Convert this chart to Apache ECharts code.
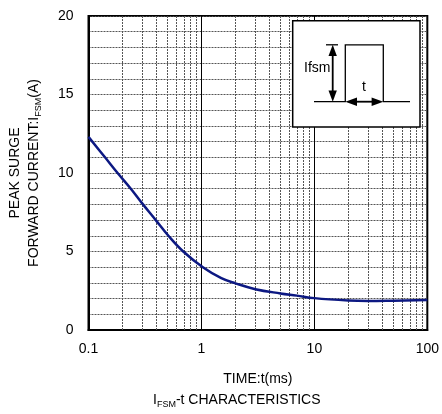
<!DOCTYPE html>
<html><head><meta charset="utf-8">
<script src="https://cdn.jsdelivr.net/npm/echarts@6/dist/echarts.min.js"></script>
<style>html,body{margin:0;padding:0;background:#fff}#c{width:442px;height:414px}</style>
</head><body><div id="c"></div>
<script>
const timeMs = [0.1, 0.14, 0.181, 0.237, 0.30, 0.394, 0.51, 0.69, 1.03, 1.5, 2, 3, 5, 7, 10, 20, 30, 50, 100];
const ifsmA = [12.3, 11, 10, 9, 8.05, 7, 6, 5, 4, 3.3, 2.97, 2.6, 2.33, 2.19, 2.03, 1.88, 1.85, 1.87, 1.91];
const minorGridX = [0.2,0.3,0.4,0.5,0.6,0.7,0.8,0.9,2,3,4,5,6,7,8,9,20,30,40,50,60,70,80,90];
const xTickLabels = ['0.1','1','10','100'];
const yTickLabels = ['0','5','10','15','20'];

const F = 'Liberation Sans, Arial, sans-serif';
const chart = echarts.init(document.getElementById('c'));
const dashed = {color:'#555', width:1, type:[2,1]};
chart.setOption({
  animation:false,
  backgroundColor:'#fff',
  textStyle:{fontFamily:F},
  grid:{left:88,right:13,top:16,bottom:84,show:true,borderColor:'#000',borderWidth:2,backgroundColor:'transparent'},
  xAxis:{type:'log',logBase:10,min:0.1,max:100,
    name:'TIME:t(ms)',nameLocation:'middle',nameGap:42,
    nameTextStyle:{fontSize:14,color:'#000',fontFamily:F},
    axisLine:{lineStyle:{color:'#000',width:2}},
    axisTick:{show:false},
    axisLabel:{fontSize:14,color:'#000',fontFamily:F,margin:12,
      formatter:v=>{const i=Math.round(Math.log10(v))+1;return xTickLabels[i]||'';}},
    splitLine:{show:true,lineStyle:{color:'#000',width:1}}
  },
  yAxis:{type:'value',min:0,max:20,interval:1,
    name:'{a|PEAK SURGE}\n{a|FORWARD CURRENT:I}{s|FSM}{a|(A)}',
    nameLocation:'middle',nameGap:45,nameRotate:90,
    nameTextStyle:{color:'#000',fontFamily:F,align:'center',
      rich:{a:{fontSize:14,color:'#000',fontFamily:F,lineHeight:19},
            s:{fontSize:9,color:'#000',fontFamily:F,lineHeight:19,verticalAlign:'bottom',padding:[5,0,0,0]}}},
    axisLine:{lineStyle:{color:'#000',width:2}},
    axisTick:{show:false},
    axisLabel:{fontSize:14,color:'#000',fontFamily:F,margin:15,
      formatter:v=>(v%5===0?yTickLabels[v/5]:'')},
    splitLine:{show:true,lineStyle:dashed}
  },
  title:{text:'{a|I}{s|FSM}{a|-t CHARACTERISTICS}',left:148,top:386,
    textStyle:{fontWeight:'normal',rich:{a:{fontSize:14,color:'#000',fontFamily:F,fontWeight:'normal',lineHeight:18},
      s:{fontSize:9,color:'#000',fontFamily:F,fontWeight:'normal',lineHeight:18,verticalAlign:'bottom',padding:[5,0,0,0]}}}},
  series:[{
    type:'line',smooth:0.4,symbol:'none',
    data:timeMs.map((t,i)=>[t,ifsmA[i]]),
    lineStyle:{color:'#0c1882',width:2.5},
    z:5,
    markLine:{silent:true,symbol:'none',label:{show:false},animation:false,
      lineStyle:dashed,
      data:minorGridX.map(v=>({xAxis:v}))}
  }],
  graphic:[
    {type:'rect',shape:{x:292.7,y:20.7,width:127.3,height:106.3},style:{fill:'#fff',stroke:'#000',lineWidth:1.5},z:100},
    {type:'polyline',shape:{points:[[314,101.7],[345.3,101.7],[345.3,44.8],[383.3,44.8],[383.3,101.7],[410,101.7]]},style:{stroke:'#000',fill:null,lineWidth:1.3},z:101},
    {type:'line',shape:{x1:326,y1:44.8,x2:338,y2:44.8},style:{stroke:'#000',lineWidth:1.3},z:101},
    {type:'line',shape:{x1:332.7,y1:50,x2:332.7,y2:96},style:{stroke:'#000',lineWidth:1.8},z:101},
    {type:'polygon',shape:{points:[[332.7,44.8],[328.5,56],[336.9,56]]},style:{fill:'#000'},z:101},
    {type:'polygon',shape:{points:[[332.7,101.7],[328.5,90.5],[336.9,90.5]]},style:{fill:'#000'},z:101},
    {type:'line',shape:{x1:350,y1:101.7,x2:378,y2:101.7},style:{stroke:'#000',lineWidth:1.8},z:101},
    {type:'polygon',shape:{points:[[345.3,101.7],[357,97.5],[357,105.9]]},style:{fill:'#000'},z:101},
    {type:'polygon',shape:{points:[[383.3,101.7],[371.6,97.5],[371.6,105.9]]},style:{fill:'#000'},z:101},
    {type:'text',style:{text:'Ifsm',x:304,y:61,fontSize:14,fontFamily:F,fill:'#000'},z:102},
    {type:'text',style:{text:'t',x:362,y:80,fontSize:14,fontFamily:F,fill:'#000'},z:102}
  ]
});
</script></body></html>
